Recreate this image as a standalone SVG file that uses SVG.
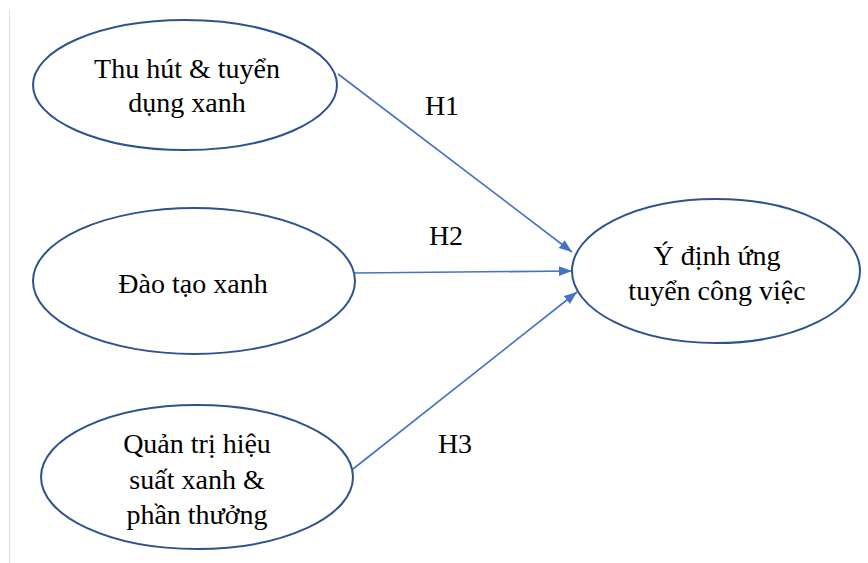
<svg xmlns="http://www.w3.org/2000/svg" width="868" height="563" viewBox="0 0 868 563">
  <style>
    .node ellipse { fill: #ffffff; stroke: #2F528F; stroke-width: 2; }
    text { font-family: "Liberation Serif", "Times New Roman", serif; font-size: 28px; fill: #000000; text-anchor: middle; }
    .edge { stroke: #4472C4; stroke-width: 1.6; fill: none; marker-end: url(#arrow); }
  </style>
  <defs>
    <marker id="arrow" markerUnits="userSpaceOnUse" markerWidth="14" markerHeight="12" refX="13" refY="5" orient="auto">
      <path d="M0,0 L13,5 L0,10 Z" fill="#4472C4"/>
    </marker>
  </defs>
  <rect x="0" y="0" width="868" height="563" fill="#ffffff"/>
  <line x1="9.5" y1="10" x2="9.5" y2="563" stroke="#dddddd" stroke-width="1"/>

  <g id="connectors">
    <line class="edge" x1="338" y1="74" x2="572" y2="252"/>
    <line class="edge" x1="354" y1="273" x2="572" y2="271"/>
    <line class="edge" x1="353" y1="469" x2="577" y2="292"/>
    <text x="442" y="115">H1</text>
    <text x="446" y="245">H2</text>
    <text x="455" y="453">H3</text>
  </g>

  <g id="n1" class="node">
    <ellipse cx="185" cy="85" rx="152" ry="65"/>
    <text x="187" y="78">Thu hút &amp; tuyển</text>
    <text x="187" y="112">dụng xanh</text>
  </g>
  <g id="n2" class="node">
    <ellipse cx="194" cy="281" rx="161" ry="73"/>
    <text x="193" y="293">Đào tạo xanh</text>
  </g>
  <g id="n3" class="node">
    <ellipse cx="197" cy="477" rx="156" ry="72"/>
    <text x="197" y="453">Quản trị hiệu</text>
    <text x="197" y="489">suất xanh &amp;</text>
    <text x="197" y="524">phần thưởng</text>
  </g>
  <g id="n4" class="node">
    <ellipse cx="716" cy="271" rx="144" ry="72"/>
    <text x="717" y="265">Ý định ứng</text>
    <text x="717" y="300">tuyển công việc</text>
  </g>
</svg>
